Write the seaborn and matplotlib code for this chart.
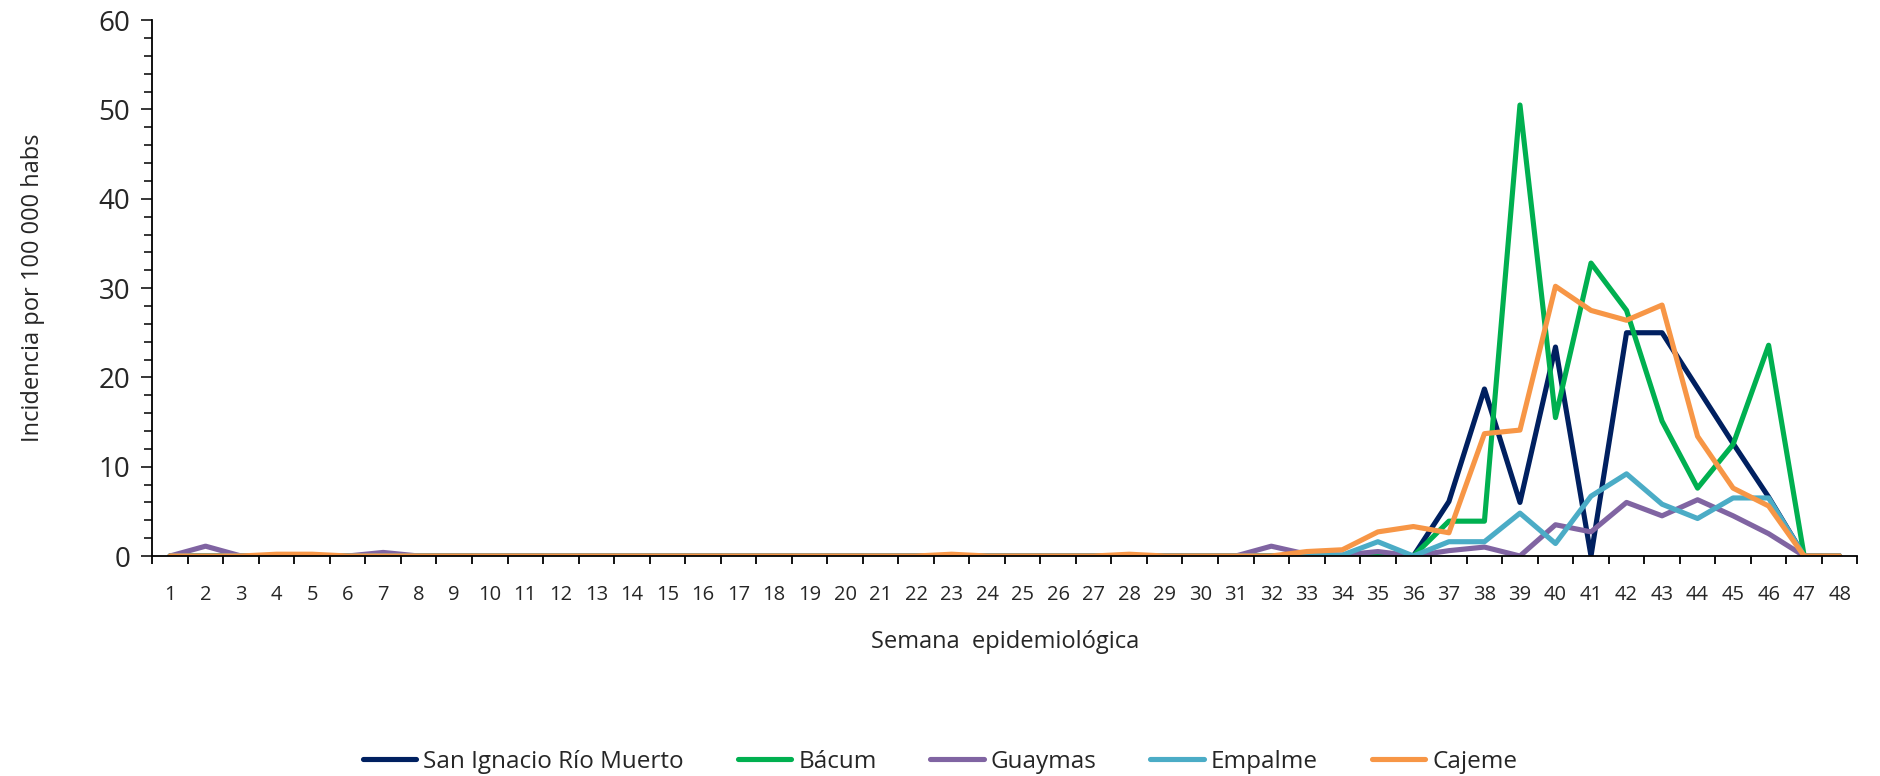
import numpy as np
import pandas as pd
import matplotlib
matplotlib.use('Agg')
import matplotlib.pyplot as plt
import seaborn as sns
from matplotlib.ticker import MultipleLocator, FixedLocator

# weekly incidence per 100 000 inhabitants, weeks 1..48
weeks = list(range(1, 49))

# weeks 1-35 are zero, then weeks 36..48
san_ignacio = [0]*35 + [0, 6.1, 18.7, 6.0, 23.4, 0, 25.0, 25.0, 18.8, 12.6, 6.6, 0, 0]
bacum = [0]*35 + [0, 3.9, 3.9, 50.5, 15.5, 32.8, 27.5, 15.1, 7.6, 12.5, 23.6, 0, 0]
# weeks 1-7, 8-30 zero, then weeks 31..48
guaymas = ([0, 1.1, 0, 0, 0, 0, 0.4] + [0]*23 +
           [0, 1.1, 0.2, 0.1, 0.5, 0, 0.6, 1.0, 0, 3.5, 2.7, 6.0, 4.5, 6.3, 4.5, 2.5, 0, 0])
# weeks 1-32 zero, then weeks 33..48
empalme = [0]*32 + [0.1, 0.1, 1.6, 0, 1.6, 1.6, 4.8, 1.4, 6.7, 9.2, 5.8, 4.2, 6.5, 6.5, 0, 0]
# weeks 1..32, then weeks 33..48
cajeme = ([0, 0, 0, 0.2, 0.2, 0, 0, 0, 0, 0,
           0, 0, 0, 0, 0, 0, 0, 0, 0, 0,
           0, 0, 0.2, 0, 0, 0, 0, 0.2, 0, 0,
           0, 0] +
          [0.5, 0.7, 2.7, 3.3, 2.6, 13.7, 14.1, 30.2, 27.5, 26.4, 28.1, 13.4, 7.6, 5.6, 0, 0])

series = {
    'San Ignacio Río Muerto': san_ignacio,
    'Bácum': bacum,
    'Guaymas': guaymas,
    'Empalme': empalme,
    'Cajeme': cajeme,
}
colors = ['#002060', '#00B050', '#8064A2', '#4BACC6', '#F79646']

df = pd.concat([pd.DataFrame({'Semana': weeks, 'Incidencia': v, 'Municipio': k})
                for k, v in series.items()], ignore_index=True)

sns.set_style('white')
plt.rcParams['font.family'] = ['Open Sans', 'DejaVu Sans']

fig = plt.figure(figsize=(18.8, 7.76), dpi=100)
ax = fig.add_axes([0.081, 0.2835, 0.907, 0.6905])

sns.lineplot(data=df, x='Semana', y='Incidencia', hue='Municipio',
             palette=colors, linewidth=3.7, ax=ax, legend=True)

ax.set_xlim(0.5, 48.5)
ax.set_ylim(0, 60)
ax.xaxis.set_major_locator(FixedLocator(weeks))
ax.xaxis.set_minor_locator(FixedLocator(np.arange(0.5, 49, 1)))
ax.set_xticklabels([str(w) for w in weeks], fontsize=14.5)
ax.tick_params(axis='x', which='major', length=0, pad=21)
ax.tick_params(axis='x', which='minor', length=6, width=1.3, direction='out', color='black')
ax.yaxis.set_major_locator(MultipleLocator(10))
ax.yaxis.set_minor_locator(MultipleLocator(2))
ax.tick_params(axis='y', which='major', length=8, width=1.3, labelsize=20, pad=8, direction='out')
ax.tick_params(axis='y', which='minor', length=6, width=1.3, direction='out')
ax.tick_params(left=True, bottom=True, which='both')

for side in ['top', 'right']:
    ax.spines[side].set_visible(False)
for side in ['left', 'bottom']:
    ax.spines[side].set_color('black')
    ax.spines[side].set_linewidth(1.3)

ax.set_xlabel('Semana  epidemiológica', fontsize=17, labelpad=18)
ax.set_ylabel('Incidencia por 100 000 habs', fontsize=17, labelpad=38)

handles, labels = ax.get_legend_handles_labels()
ax.legend_.remove()
fig.legend(handles, labels, loc='lower center', bbox_to_anchor=(0.5, -0.025), ncol=5,
           frameon=False, fontsize=17.5, handlelength=2.2, columnspacing=2.2,
           handletextpad=0.3)

fig.savefig('out.png', dpi=100)
